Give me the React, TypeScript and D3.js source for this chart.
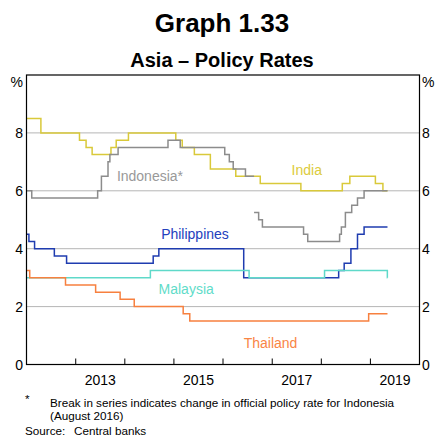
import React from "react";
import * as d3 from "d3";

const W = 436;
const H = 440;

const indiaDates = ["2012-01-01","2012-04-17","2013-01-29","2013-03-19","2013-05-03","2013-09-20","2013-10-29","2014-01-28","2015-01-15","2015-03-04","2015-06-02","2015-09-29","2016-04-05","2016-10-04","2017-08-02","2018-06-06","2018-08-01","2019-02-07","2019-04-04","2019-05-08"];
const indiaValues = [8.5,8.0,7.75,7.5,7.25,7.5,7.75,8.0,7.75,7.5,7.25,6.75,6.5,6.25,6.0,6.25,6.5,6.25,6.0,6.0];

const indonesiaOldDates = ["2012-01-01","2012-02-09","2013-06-13","2013-07-11","2013-08-29","2013-09-12","2013-11-12","2014-11-18","2015-02-17","2016-01-14","2016-02-17","2016-03-17","2016-06-16","2016-08-19"];
const indonesiaOldValues = [6.0,5.75,6.0,6.5,7.0,7.25,7.5,7.75,7.5,7.25,7.0,6.75,6.5,6.5];

const indonesiaNewDates = ["2016-08-19","2016-09-22","2016-10-20","2017-08-22","2017-09-22","2018-05-17","2018-05-30","2018-06-29","2018-08-15","2018-09-27","2018-11-15","2019-05-08"];
const indonesiaNewValues = [5.25,5.0,4.75,4.5,4.25,4.5,4.75,5.25,5.5,5.75,6.0,6.0];

const philippinesDates = ["2012-01-01","2012-01-19","2012-03-01","2012-07-26","2012-10-25","2014-07-31","2014-09-11","2016-06-03","2018-05-10","2018-06-20","2018-08-09","2018-09-27","2018-11-15","2019-05-08"];
const philippinesValues = [4.5,4.25,4.0,3.75,3.5,3.75,4.0,3.0,3.25,3.5,4.0,4.5,4.75,4.75];

const malaysiaDates = ["2012-01-01","2014-07-10","2016-07-13","2018-01-25","2019-05-07","2019-05-08"];
const malaysiaValues = [3.0,3.25,3.0,3.25,3.0,3.0];

const thailandDates = ["2012-01-01","2012-01-25","2012-10-17","2013-05-29","2013-11-27","2014-03-12","2015-03-11","2015-04-29","2018-12-19","2019-05-08"];
const thailandValues = [3.25,3.0,2.75,2.5,2.25,2.0,1.75,1.5,1.75,1.75];

const yTicks = [0, 2, 4, 6, 8];
const gridTicks = [2, 4, 6, 8];
const yearLabels = ["2013", "2015", "2017", "2019"];

const FONT = "Arial, 'Liberation Sans', Helvetica, sans-serif";

const x = d3.scaleTime()
  .domain([new Date(2012, 0, 1), new Date(2020, 0, 1)])
  .range([26.5, 419.5]);
const y = d3.scaleLinear().domain([0, 10]).range([364.5, 75]);

type Pt = { d: Date; v: number };
const parse = (s: string) => {
  const [yy, mm, dd] = s.split("-").map(Number);
  return new Date(yy, mm - 1, dd);
};
const toPts = (ds: string[], vs: number[]): Pt[] =>
  ds.map((s, i) => ({ d: parse(s), v: vs[i] }));

const line = d3.line<Pt>()
  .x((p) => x(p.d))
  .y((p) => y(p.v))
  .curve(d3.curveStepAfter);

const series = [
  { pts: toPts(indiaDates, indiaValues), color: "#d9c93a" },
  { pts: toPts(indonesiaOldDates, indonesiaOldValues), color: "#8c8c8c" },
  { pts: toPts(indonesiaNewDates, indonesiaNewValues), color: "#8c8c8c" },
  { pts: toPts(philippinesDates, philippinesValues), color: "#1f3cb0" },
  { pts: toPts(malaysiaDates, malaysiaValues), color: "#5fd9c9" },
  { pts: toPts(thailandDates, thailandValues), color: "#f7803f" },
];

const labels = [
  { text: "India", xv: "2017-05-25", yv: 6.55, color: "#dccb3c" },
  { text: "Indonesia*", xv: "2013-11-03", yv: 6.34, color: "#999999" },
  { text: "Philippines", xv: "2014-09-28", yv: 4.33, color: "#2340bd" },
  { text: "Malaysia", xv: "2014-09-09", yv: 2.44, color: "#5fdcc9" },
  { text: "Thailand", xv: "2016-06-03", yv: 0.57, color: "#f98545" },
];

export default function App() {
  const [x0, x1] = x.range();
  const [y0, y1] = y.range();
  const yearTicks = x.ticks(d3.timeYear.every(1)).filter((t) => x(t) > x0 + 1 && x(t) < x1 - 1);
  return (
    <svg width={W} height={H} style={{ position: "absolute", left: 0, top: 0, background: "#fff" }} fontFamily={FONT}>
      <text x={222} y={32} textAnchor="middle" fontSize={26} fontWeight="bold">Graph 1.33</text>
      <text x={222} y={67} textAnchor="middle" fontSize={20} fontWeight="bold">Asia – Policy Rates</text>

      {gridTicks.map((t) => (
        <line key={t} x1={x0} x2={x1} y1={y(t)} y2={y(t)} stroke="#b5b5b5" strokeWidth={1} />
      ))}

      {series.map((s, i) => (
        <path key={i} d={line(s.pts) || ""} fill="none" stroke={s.color} strokeWidth={1.5} />
      ))}

      {yearTicks.map((t, i) => (
        <line key={i} x1={x(t)} x2={x(t)} y1={y0} y2={y0 - 6} stroke="#000" strokeWidth={1} />
      ))}

      <rect x={x0} y={y1} width={x1 - x0} height={y0 - y1} fill="none" stroke="#000" strokeWidth={1.2} />

      {yTicks.map((t) => (
        <g key={t} fontSize={14}>
          <text x={23} y={y(t) + 5} textAnchor="end">{t}</text>
          <text x={422} y={y(t) + 5} textAnchor="start">{t}</text>
        </g>
      ))}
      <text x={23} y={87} textAnchor="end" fontSize={14}>%</text>
      <text x={422} y={87} textAnchor="start" fontSize={14}>%</text>

      {yearLabels.map((yl) => {
        const yr = Number(yl);
        const cx = (x(new Date(yr, 0, 1)) + x(new Date(yr + 1, 0, 1))) / 2;
        return (
          <text key={yl} x={cx} y={385} textAnchor="middle" fontSize={14}>{yl}</text>
        );
      })}

      {labels.map((l) => (
        <text key={l.text} x={x(parse(l.xv))} y={y(l.yv)} textAnchor="start" fontSize={14} fill={l.color}>{l.text}</text>
      ))}

      <text x={25} y={403} fontSize={11.7}>*</text>
      <text x={50} y={407} fontSize={11.7}>Break in series indicates change in official policy rate for Indonesia</text>
      <text x={50} y={420} fontSize={11.7}>(August 2016)</text>
      <text x={25} y={434.5} fontSize={11.7}>Source:</text>
      <text x={74} y={434.5} fontSize={11.7}>Central banks</text>
    </svg>
  );
}
